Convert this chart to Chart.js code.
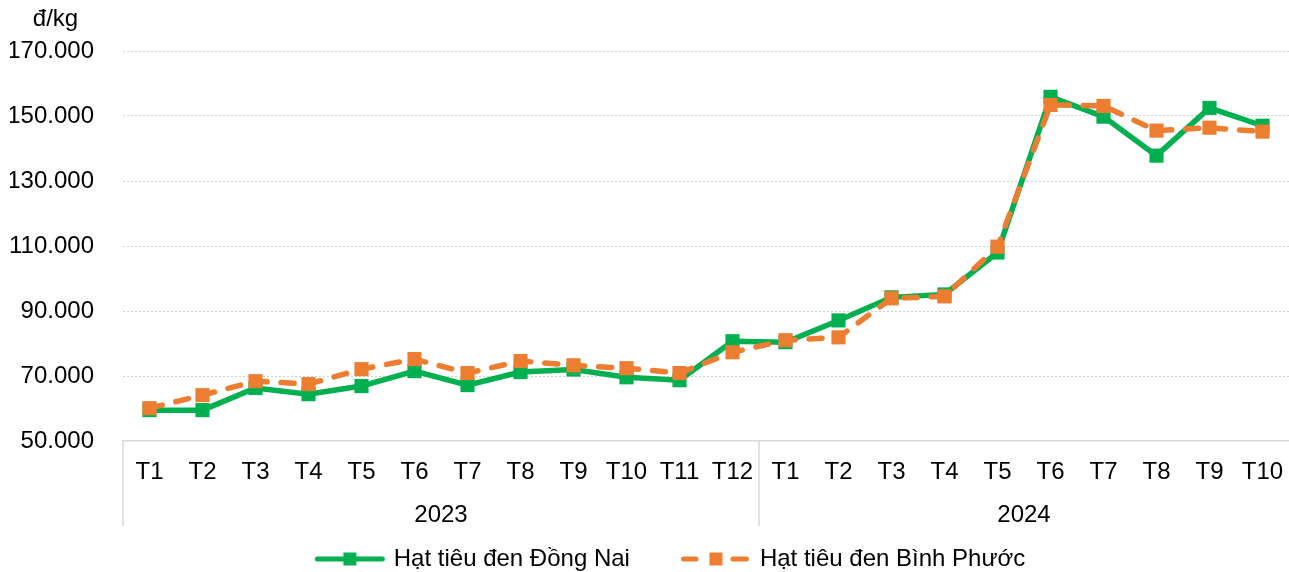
<!DOCTYPE html>
<html>
<head>
<meta charset="utf-8">
<script src="https://cdn.jsdelivr.net/npm/chart.js@4.4.0/dist/chart.umd.min.js"></script>
<style>
  html, body { margin: 0; padding: 0; background: #fff; }
  #wrap { width: 1289px; height: 572px; }
</style>
</head>
<body>
<div id="wrap"><canvas id="giaTieu"></canvas></div>
<script>
// du lieu
const thangLabels = ['T1','T2','T3','T4','T5','T6','T7','T8','T9','T10','T11','T12',
                     'T1','T2','T3','T4','T5','T6','T7','T8','T9','T10'];
const namLabels = ['2023', '2024'];
const soThangMoiNam = [12, 10];
const dongNai = [59500, 59500, 66300, 64400, 66900, 71500, 67200, 71200, 72000, 69600, 68700, 80700,
                 80400, 87100, 94200, 95100, 108000, 155900, 149800, 137800, 152500, 147000];
const binhPhuoc = [60100, 64100, 68400, 67500, 72100, 75200, 70900, 74600, 73300, 72400, 70900, 77300,
                   81000, 81900, 93900, 94500, 109800, 153400, 153100, 145500, 146400, 145200];
const tenSeries = ['Hạt tiêu đen Đồng Nai', 'Hạt tiêu đen Bình Phước'];
const donVi = 'đ/kg';
const yMin = 50000, yMax = 170000, yStep = 20000;

const xanh = '#00b050';
const cam = '#ed7d31';
const font = "Arial, 'Liberation Sans', sans-serif";
const coChu = 24;

// dinh dang 170000 -> 170.000
function dinhDang(v) {
  return String(v).replace(/\B(?=(\d{3})+(?!\d))/g, '.');
}

// icon cho legend: duong + o vuong
function taoIcon(color, netDut) {
  const c = document.createElement('canvas');
  c.width = 120; c.height = 20;
  const g = c.getContext('2d');
  g.strokeStyle = color; g.fillStyle = color;
  g.lineWidth = 5; g.lineCap = 'round';
  g.beginPath();
  if (netDut) {
    g.moveTo(49.5, 10); g.lineTo(62, 10);
    g.moveTo(99, 10); g.lineTo(112.5, 10);
  } else {
    g.moveTo(49.5, 10); g.lineTo(114.5, 10);
  }
  g.stroke();
  g.fillRect(75.5, 3.5, 13, 13);
  return c;
}
const icons = [taoIcon(xanh, false), taoIcon(cam, true)];

// ve nhan nam, duong phan cach va don vi
const nhomNamPlugin = {
  id: 'nhomNam',
  afterDraw(chart) {
    const x = chart.scales.x, y = chart.scales.y, ctx = chart.ctx;
    const half = (x.getPixelForValue(1) - x.getPixelForValue(0)) / 2;
    ctx.save();
    ctx.strokeStyle = '#d9d9d9';
    ctx.lineWidth = 1.5;
    ctx.fillStyle = '#000';
    ctx.font = coChu + 'px ' + font;
    ctx.textAlign = 'center';
    ctx.textBaseline = 'middle';
    let start = 0;
    for (let i = 0; i < namLabels.length; i++) {
      const left = x.getPixelForValue(start) - half;
      const right = x.getPixelForValue(start + soThangMoiNam[i] - 1) + half;
      // chi ve vach ben trai moi nhom
      ctx.beginPath();
      ctx.moveTo(left, x.top); ctx.lineTo(left, x.top + 85);
      ctx.stroke();
      ctx.fillText(namLabels[i], (left + right) / 2, x.top + 74);
      start += soThangMoiNam[i];
    }
    ctx.fillText(donVi, y.left + y.width / 2 - 11, y.top - 32);
    ctx.restore();
  }
};

new Chart(document.getElementById('giaTieu'), {
  type: 'line',
  data: {
    labels: thangLabels,
    datasets: [
      {
        label: tenSeries[0],
        data: dongNai,
        borderColor: xanh,
        backgroundColor: xanh,
        borderWidth: 5.5,
        pointStyle: 'rect',
        pointRadius: 10,
        pointHoverRadius: 10,
        pointBorderWidth: 0,
        pointBackgroundColor: xanh,
        tension: 0,
        order: 1
      },
      {
        label: tenSeries[1],
        data: binhPhuoc,
        borderColor: cam,
        backgroundColor: cam,
        borderWidth: 5.5,
        borderDash: [13, 14],
        borderCapStyle: 'round',
        pointStyle: 'rect',
        pointRadius: 10,
        pointHoverRadius: 10,
        pointBorderWidth: 0,
        pointBackgroundColor: cam,
        tension: 0,
        order: 0
      }
    ]
  },
  options: {
    responsive: true,
    maintainAspectRatio: false,
    animation: false,
    layout: { autoPadding: false, padding: { top: 51, left: 10, right: 0, bottom: -9 } },
    scales: {
      x: {
        offset: true,
        grid: { display: false },
        border: { display: true, color: '#d9d9d9', width: 1.5 },
        ticks: { color: '#000', font: { family: font, size: coChu }, padding: 9, maxRotation: 0, autoSkip: false },
        afterFit(scale) {
          scale.height = 96;
          scale.paddingLeft = 0;
          scale.paddingRight = 0;
        }
      },
      y: {
        min: yMin,
        max: yMax,
        border: { display: false, dash: [2, 2] },
        grid: {
          drawTicks: false,
          color: ctx => ctx.tick && ctx.tick.value === yMin ? 'rgba(0,0,0,0)' : '#d0d0d0',
          lineWidth: 1
        },
        ticks: {
          stepSize: yStep,
          padding: 29,
          color: '#000',
          font: { family: font, size: coChu },
          callback: v => dinhDang(v)
        },
        afterFit(scale) { scale.width = 113; }
      }
    },
    plugins: {
      legend: {
        position: 'bottom',
        labels: {
          usePointStyle: true,
          pointStyleWidth: 108,
          padding: 10,
          color: '#000',
          font: { family: font, size: coChu },
          generateLabels: chart => chart.data.datasets.map((ds, i) => ({
            text: ds.label,
            pointStyle: icons[i],
            fillStyle: ds.borderColor,
            strokeStyle: ds.borderColor,
            lineWidth: 0,
            hidden: false,
            datasetIndex: i,
            fontColor: '#000'
          }))
        }
      },
      tooltip: { enabled: false }
    }
  },
  plugins: [nhomNamPlugin]
});
</script>
</body>
</html>
